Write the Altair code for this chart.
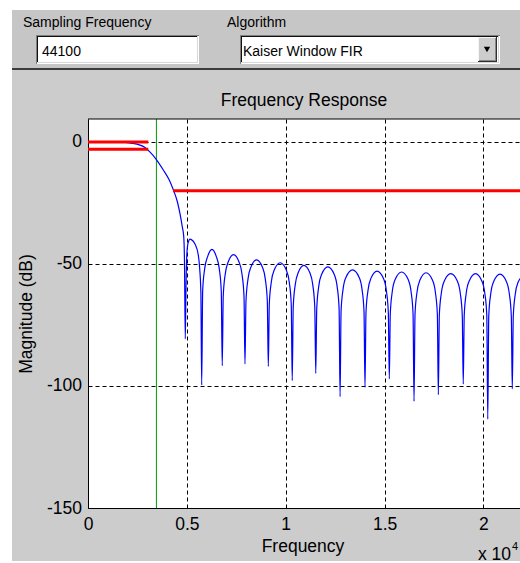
import altair as alt
import pandas as pd

# ---------------- data (frequency in units of 10^4 Hz, magnitude in dB) ----------------
freq = [
    0.000, 0.150, 0.217, 0.263, 0.290, 0.314, 0.344, 0.381, 0.411, 0.432, 0.452, 0.465, 0.477, 0.484, 0.488, 0.492,
    0.496, 0.500, 0.506, 0.516, 0.530, 0.541, 0.558, 0.565, 0.571, 0.575,
    0.580, 0.590, 0.605, 0.627, 0.649, 0.664, 0.674, 0.679,
    0.684, 0.694, 0.709, 0.736, 0.764, 0.779, 0.789, 0.794,
    0.799, 0.809, 0.824, 0.853, 0.882, 0.897, 0.907, 0.912,
    0.917, 0.927, 0.942, 0.972, 1.003, 1.018, 1.028, 1.033,
    1.038, 1.048, 1.063, 1.092, 1.122, 1.137, 1.147, 1.152,
    1.157, 1.167, 1.182, 1.213, 1.245, 1.260, 1.270, 1.275,
    1.280, 1.290, 1.305, 1.338, 1.371, 1.386, 1.396, 1.401,
    1.406, 1.416, 1.431, 1.462, 1.494, 1.509, 1.519, 1.524,
    1.529, 1.539, 1.554, 1.586, 1.619, 1.634, 1.644, 1.649,
    1.654, 1.664, 1.679, 1.710, 1.742, 1.757, 1.767, 1.772,
    1.777, 1.787, 1.802, 1.835, 1.868, 1.883, 1.893, 1.898,
    1.903, 1.913, 1.928, 1.960, 1.992, 2.007, 2.017, 2.022,
    2.027, 2.037, 2.052, 2.084, 2.116, 2.131, 2.141, 2.146,
    2.151, 2.161, 2.176, 2.205,
]
mag = [
    0.0, 0.0, -0.5, -1.3, -2.4, -4.2, -7.0, -11.5, -15.6, -19.7, -24.5, -29.3, -34.8, -38.5, -49.0, -80.7,
    -58.0, -46.0, -41.5, -39.8, -40.5, -41.8, -46.4, -52.0, -62.0, -99.6,
    -61.0, -52.0, -47.0, -44.0, -47.0, -52.0, -61.0, -91.7,
    -63.2, -54.2, -49.2, -46.2, -49.2, -54.2, -63.2, -91.0,
    -65.3, -56.3, -51.3, -48.3, -51.3, -56.3, -65.3, -92.0,
    -66.5, -57.5, -52.5, -49.5, -52.5, -57.5, -66.5, -97.8,
    -67.6, -58.6, -53.6, -50.6, -53.6, -58.6, -67.6, -94.8,
    -68.2, -59.2, -54.2, -51.2, -54.2, -59.2, -68.2, -104.4,
    -69.4, -60.4, -55.4, -52.4, -55.4, -60.4, -69.4, -100.6,
    -69.9, -60.9, -55.9, -52.9, -55.9, -60.9, -69.9, -97.1,
    -70.3, -61.3, -56.3, -53.3, -56.3, -61.3, -70.3, -106.3,
    -70.6, -61.6, -56.6, -53.6, -56.6, -61.6, -70.6, -103.6,
    -71.0, -62.0, -57.0, -54.0, -57.0, -62.0, -71.0, -99.2,
    -71.0, -62.0, -57.0, -54.0, -57.0, -62.0, -71.0, -113.6,
    -71.2, -62.2, -57.2, -54.2, -57.2, -62.2, -71.2, -101.2,
    -71.4, -62.4, -57.4, -54.5,
]

# specification lines
pass_lo = [0.0, 0.0]
pass_hi = [0.305, 0.305]
pass_db = [0.0, -3.0]
stop_lo = [0.43]
stop_hi = [2.205]
stop_db = [-20.0]
cutoff = [0.346]

x_ticks = [0, 0.5, 1, 1.5, 2]
y_ticks = [-150, -100, -50, 0]
x_domain = [0, 2.185]
y_domain = [-150, 9.4]

# ---------------- layout ----------------
W, H, L, T = 432, 389, 88, 119
FONT = "Liberation Sans"
MFS = 17.5   # MATLAB axes text size
UFS = 14     # GUI control text size

xs = alt.Scale(domain=x_domain, nice=False, zero=False)
ys = alt.Scale(domain=y_domain, nice=False, zero=False)

xaxis = alt.Axis(
    values=x_ticks, labelExpr="toString(datum.value)", title="Frequency",
    titleFont=FONT, titleFontSize=MFS, titleFontWeight="normal", titleColor="black",
    titleX=214.5, titleY=43, titleAlign="center", titleBaseline="alphabetic",
    labelFont=FONT, labelFontSize=MFS, labelColor="black", labelPadding=7,
    labelFlush=False, labelOverlap=False,
    ticks=False, domainColor="black", domainWidth=1,
    grid=True, gridColor="black", gridDash=[4, 3], gridWidth=1, gridOpacity=1,
)
yaxis = alt.Axis(
    values=y_ticks, labelExpr="toString(datum.value)", title="Magnitude (dB)",
    titleFont=FONT, titleFontSize=MFS, titleFontWeight="normal", titleColor="black",
    titleAngle=270, titleX=-62, titleY=194.5, titleAlign="center", titleBaseline="middle",
    labelFont=FONT, labelFontSize=MFS, labelColor="black", labelPadding=6.5,
    labelFlush=False, labelOverlap=False,
    ticks=False, domainColor="black", domainWidth=1,
    grid=True, gridColor="black", gridDash=[4, 3], gridWidth=1, gridOpacity=1,
)

dummy = alt.Data(values=[{"k": 0}])


def rect(x1, y1, x2, y2, color):
    """GUI chrome rectangle in absolute page pixels."""
    return alt.Chart(dummy).mark_rect(color=color, clip=False).encode(
        x=alt.value(x1 - L), x2=alt.value(x2 - L),
        y=alt.value(y1 - T), y2=alt.value(y2 - T))


def label(txt, x, y, size=UFS, align="left"):
    return alt.Chart(dummy).mark_text(
        text=txt, align=align, baseline="alphabetic", font=FONT, fontSize=size, color="black"
    ).encode(x=alt.value(x - L), y=alt.value(y - T))


def sunken(x1, y1, x2, y2):
    return [
        rect(x1, y1, x2, y2, "white"),
        rect(x1, y1, x2, y1 + 1, "#808080"),
        rect(x1, y1, x1 + 1, y2, "#808080"),
        rect(x1 + 1, y1 + 1, x2 - 1, y1 + 2, "#101010"),
        rect(x1 + 1, y1 + 1, x1 + 2, y2 - 1, "#101010"),
        rect(x1 + 1, y2 - 2, x2 - 1, y2 - 1, "#d8d8d8"),
        rect(x2 - 2, y1 + 1, x2 - 1, y2 - 1, "#d8d8d8"),
    ]


chrome = [
    rect(0, 0, 12, 563, "white"),
    rect(0, 0, 520, 10, "white"),
    rect(0, 561, 520, 563, "white"),
    rect(12, 10, 520, 68, "#c6c6c6"),
    rect(12, 68, 520, 70, "#3c3c3c"),
]
chrome += sunken(36, 35, 199, 64)
chrome += sunken(240, 35, 500, 64)
# drop-down button
chrome += [
    rect(478, 37, 497, 62, "#cdcdcd"),
    rect(478, 37, 497, 38, "#f4f4f4"),
    rect(478, 37, 479, 62, "#f4f4f4"),
    rect(478, 61, 497, 62, "#303030"),
    rect(496, 37, 497, 62, "#303030"),
    rect(479, 60, 496, 61, "#888888"),
    rect(495, 38, 496, 61, "#888888"),
    alt.Chart(dummy).mark_point(shape="triangle-down", filled=True, size=40, color="black", opacity=1)
    .encode(x=alt.value(487 - L), y=alt.value(49.5 - T)),
]
texts = [
    label("Sampling Frequency", 23, 26.5),
    label("Algorithm", 227, 26.5),
    label("44100", 42, 56),
    label("Kaiser Window FIR", 243, 56),
    label("Frequency Response", 304, 105.5, size=MFS, align="center"),
    label("x 10", 478, 560, size=MFS),
    label("4", 512, 550, size=11),
]

# ---------------- data layers ----------------
green = alt.Chart(pd.DataFrame({"f": cutoff})).mark_rule(color="#009a00", strokeWidth=1).encode(
    x=alt.X("f:Q", scale=xs, axis=xaxis))

resp = pd.DataFrame({"f": freq, "m": mag})
blue = alt.Chart(resp).mark_line(color="#0000ff", strokeWidth=1.2, interpolate="monotone", clip=True).encode(
    x=alt.X("f:Q", scale=xs, axis=xaxis),
    y=alt.Y("m:Q", scale=ys, axis=yaxis))

spec = pd.DataFrame({"f": pass_lo + stop_lo, "f2": pass_hi + stop_hi, "m": pass_db + stop_db})
red = alt.Chart(spec).mark_rule(color="#ff0000", strokeWidth=3, clip=True).encode(
    x=alt.X("f:Q", scale=xs, axis=xaxis), x2="f2:Q",
    y=alt.Y("m:Q", scale=ys, axis=yaxis))

top_border = alt.Chart(dummy).mark_rule(color="black", strokeWidth=1).encode(
    x=alt.value(0), x2=alt.value(W), y=alt.value(0))

chart = alt.layer(*chrome, *texts, green, blue, red, top_border).properties(
    width=W, height=H,
    padding={"left": L, "top": T, "right": 0, "bottom": 563 - T - H},
    autosize=alt.AutoSizeParams(type="none"),
    background="#cccccc",
).configure_view(fill="white", strokeWidth=0)

chart.save("out.html", embed_options={"renderer": "svg", "actions": False})
